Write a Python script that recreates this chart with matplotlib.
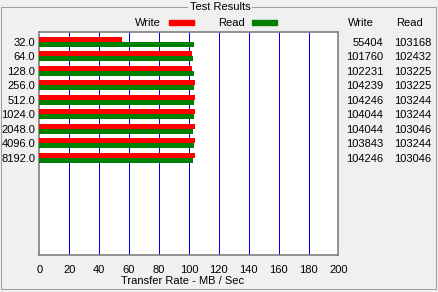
import matplotlib
matplotlib.use('Agg')
import matplotlib.pyplot as plt
from matplotlib.patches import Rectangle
from matplotlib.transforms import blended_transform_factory

# block sizes (KB) and measured rates (KB/s)
sizes = ['32.0', '64.0', '128.0', '256.0', '512.0', '1024.0', '2048.0', '4096.0', '8192.0']
write = [55404, 101760, 102231, 104239, 104246, 104044, 104044, 103843, 104246]
read = [103168, 102432, 103225, 103225, 103244, 103244, 103046, 103244, 103046]
x_ticks = [0, 20, 40, 60, 80, 100, 120, 140, 160, 180, 200]

W, H = 439, 292
BG = '#F0F0F0'
plt.rcParams['font.family'] = ['Liberation Sans', 'DejaVu Sans']
plt.rcParams['font.size'] = 8

fig = plt.figure(figsize=(W / 100, H / 100), dpi=100, facecolor=BG)

def px(x, y):
    # pixel position (from top-left) -> figure fraction
    return x / W, 1 - y / H

# group box
fig.patches.append(Rectangle((1.5 / W, 1 - 288.5 / H), 435 / W, 282 / H,
                             transform=fig.transFigure, fill=False,
                             edgecolor='#A0A0A0', lw=0.75))
fig.text(*px(220, 6.5), 'Test Results', ha='center', va='center',
         bbox=dict(facecolor=BG, edgecolor='none', pad=1))

# plot area
left, right, top, bottom = 39.3, 338.5, 32.3, 255
ax = fig.add_axes([left / W, 1 - bottom / H, (right - left) / W, (bottom - top) / H])
ax.set_facecolor('white')

ypos = list(range(len(sizes)))
h = 0.345
ax.barh([y - h / 2 for y in ypos], [v / 1000 for v in write], height=h,
        color='#FF0000', zorder=3)
ax.barh([y + h / 2 for y in ypos], [v / 1000 for v in read], height=h,
        color='#008000', zorder=3)

ax.set_xlim(0, 200)
ax.set_ylim(14.71, -0.648)
ax.set_xticks(x_ticks)
ax.set_xticklabels([str(t) for t in x_ticks])
ax.set_yticks(ypos)
ax.set_yticklabels(sizes)
ax.tick_params(length=0)
ax.tick_params(axis='x', pad=7)
ax.tick_params(axis='y', pad=3)
for t in x_ticks[1:-1]:
    ax.axvline(t, color='#0000FF', lw=0.72, zorder=1, antialiased=False)
for s in ax.spines.values():
    s.set_color('#808080')
    s.set_linewidth(1.2)

fig.text(*px(183, 281.5), 'Transfer Rate - MB / Sec', ha='center', va='center')

# legend
fig.text(*px(161, 22.5), 'Write', ha='right', va='center')
fig.patches.append(Rectangle(px(169, 24.7), 25 / W, 4.7 / H,
                             transform=fig.transFigure, color='#FF0000'))
fig.text(*px(245, 22.5), 'Read', ha='right', va='center')
fig.patches.append(Rectangle(px(252, 24.7), 25 / W, 4.7 / H,
                             transform=fig.transFigure, color='#008000'))

# table on the right
fig.text(*px(360.5, 22.5), 'Write', ha='center', va='center')
fig.text(*px(409.5, 22.5), 'Read', ha='center', va='center')
tr = blended_transform_factory(fig.transFigure, ax.transData)
for y, w, r in zip(ypos, write, read):
    fig.text(383.3 / W, y + 0.07, str(w), ha='right', va='center', transform=tr)
    fig.text(431 / W, y + 0.07, str(r), ha='right', va='center', transform=tr)

fig.savefig('out.png', dpi=100, facecolor=BG)
